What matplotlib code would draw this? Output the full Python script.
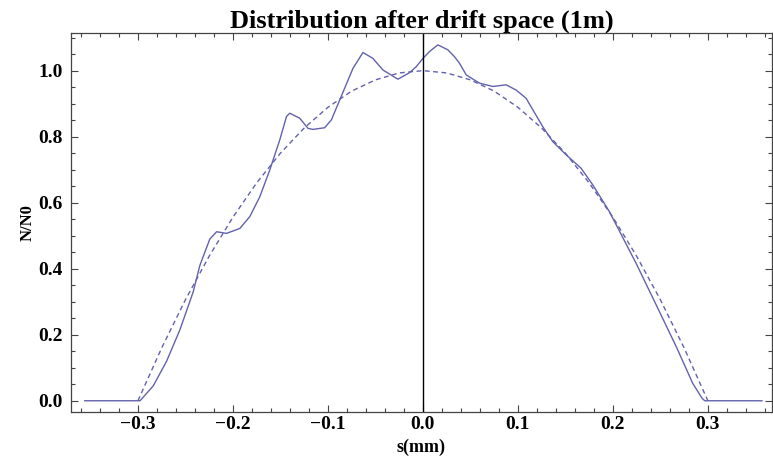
import matplotlib
matplotlib.use("Agg")
import matplotlib.pyplot as plt
from matplotlib.ticker import MultipleLocator, FuncFormatter

s_meas = [-0.356, -0.2978, -0.2839, -0.2698, -0.2558, -0.2418, -0.2348, -0.2243,
          -0.2172, -0.2067, -0.1927, -0.1822, -0.1717, -0.1612, -0.1507, -0.1436,
          -0.1402, -0.1297, -0.1209, -0.1157, -0.1034, -0.0963, -0.0876, -0.0736,
          -0.0631, -0.0526, -0.0421, -0.0263, -0.014, -0.007, 0.0, 0.007, 0.0158,
          0.0263, 0.0333, 0.0386, 0.0456, 0.0596, 0.0736, 0.0877, 0.0982, 0.1087,
          0.1262, 0.1367, 0.1508, 0.1666, 0.1788, 0.1963, 0.2245, 0.2465, 0.2675,
          0.2840, 0.2940, 0.2968, 0.3569]
n_meas = [0.0, 0.0, 0.045, 0.12, 0.215, 0.33, 0.41, 0.49,
          0.512, 0.507, 0.522, 0.558, 0.618, 0.699, 0.79, 0.861,
          0.871, 0.856, 0.825, 0.822, 0.827, 0.851, 0.911, 1.007,
          1.055, 1.037, 1.002, 0.974, 0.994, 1.012, 1.037, 1.058, 1.078,
          1.063, 1.042, 1.022, 0.987, 0.962, 0.952, 0.957, 0.941, 0.916,
          0.830, 0.785, 0.745, 0.704, 0.654, 0.573, 0.416, 0.285, 0.159,
          0.053, 0.007, 0.0, 0.0]

# reference profile (dashed)
s_ref = [-0.3, -0.275, -0.25, -0.225, -0.2, -0.175, -0.15, -0.125, -0.1, -0.075,
         -0.05, -0.025, 0.0, 0.025, 0.05, 0.075, 0.1, 0.125, 0.15, 0.175, 0.2,
         0.225, 0.25, 0.275, 0.3]
n_ref = [0.0, 0.16, 0.306, 0.438, 0.556, 0.66, 0.75, 0.826, 0.889, 0.938,
         0.972, 0.993, 1.0, 0.993, 0.972, 0.938, 0.889, 0.826, 0.75, 0.66, 0.556,
         0.438, 0.306, 0.16, 0.0]

col = '#6262ae'
plt.rcParams['font.family'] = ['Liberation Serif', 'DejaVu Serif']

fig = plt.figure(figsize=(7.73, 4.66), dpi=100)
ax = fig.add_axes([0.0918, 0.1159, 0.9069, 0.8133])

ax.plot(s_meas, n_meas, color=col, lw=1.0)
ax.plot(s_ref, n_ref, color=col, lw=1.0, ls=(0, (3.5, 2.5)))
ax.axvline(0, color='black', lw=1.0)

ax.set_xlim(-0.3705, 0.3675)
ax.set_ylim(-0.034, 1.114)

ax.xaxis.set_major_locator(MultipleLocator(0.1))
ax.xaxis.set_minor_locator(MultipleLocator(0.02))
ax.yaxis.set_major_locator(MultipleLocator(0.2))
ax.yaxis.set_minor_locator(MultipleLocator(0.05))
fmt = FuncFormatter(lambda v, p: ('%.1f' % v).replace('-', '\u2212') if abs(v) > 1e-9 else '0.0')
ax.xaxis.set_major_formatter(fmt)
ax.yaxis.set_major_formatter(fmt)

ax.tick_params(which='both', direction='in', top=True, right=True,
               color='#444444', width=0.8, labelsize=14)
ax.tick_params(which='major', length=5)
ax.tick_params(axis='x', which='major', pad=3)
ax.tick_params(axis='y', which='major', pad=6)
ax.tick_params(which='minor', length=3)
for lab in ax.get_xticklabels() + ax.get_yticklabels():
    lab.set_fontweight('bold')
for sp in ax.spines.values():
    sp.set_color('#444444')
    sp.set_linewidth(0.9)

ax.set_title('Distribution after drift space (1m)', fontsize=19,
             fontweight='bold', pad=3)
ax.set_xlabel('s(mm)', fontsize=13, fontweight='bold', labelpad=4)
ax.set_ylabel('N/N0', fontsize=12, fontweight='bold', labelpad=2)

fig.savefig('out.png', dpi=100)
